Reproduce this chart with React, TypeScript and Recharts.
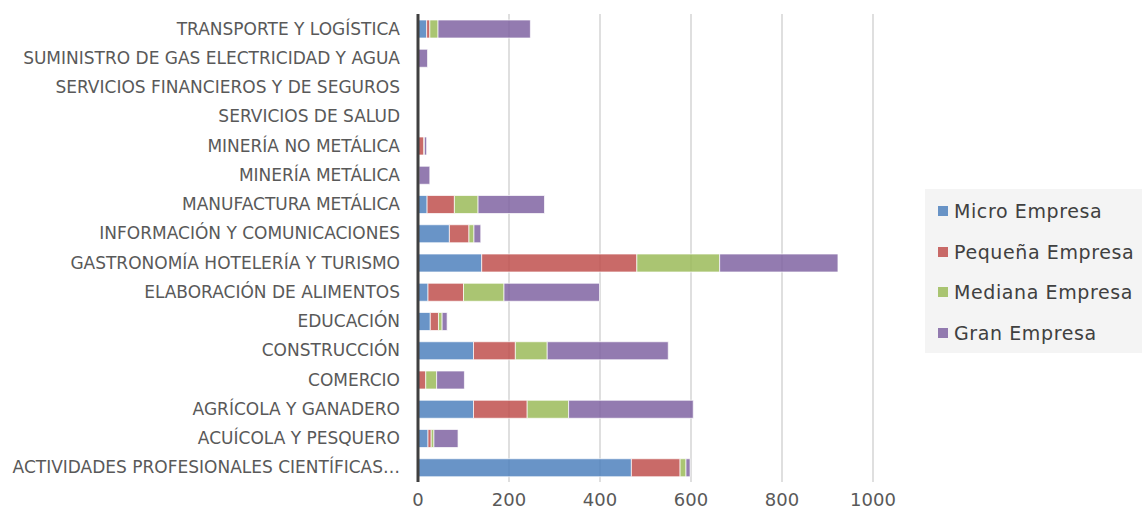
import React from "react";
import { Bar, BarChart, CartesianGrid, Legend, XAxis, YAxis } from "recharts";

// Sectors in source order (alphabetical); the Y axis is reversed so the list reads bottom-up.
const sectors = [
  "ACTIVIDADES PROFESIONALES CIENTÍFICAS…",
  "ACUÍCOLA Y PESQUERO",
  "AGRÍCOLA Y GANADERO",
  "COMERCIO",
  "CONSTRUCCIÓN",
  "EDUCACIÓN",
  "ELABORACIÓN DE ALIMENTOS",
  "GASTRONOMÍA HOTELERÍA Y TURISMO",
  "INFORMACIÓN Y COMUNICACIONES",
  "MANUFACTURA METÁLICA",
  "MINERÍA METÁLICA",
  "MINERÍA NO METÁLICA",
  "SERVICIOS DE SALUD",
  "SERVICIOS FINANCIEROS Y DE SEGUROS",
  "SUMINISTRO DE GAS ELECTRICIDAD Y AGUA",
  "TRANSPORTE Y LOGÍSTICA"
];

const micro = [469, 22, 122, 0, 122, 27, 22, 140, 69, 20, 0, 0, 0, 0, 0, 19];
const pequena = [107, 7, 118, 17, 92, 18, 78, 341, 43, 60, 0, 13, 0, 0, 0, 7];
const mediana = [13, 6, 91, 24, 70, 8, 89, 182, 11, 52, 2, 1, 0, 0, 0, 18];
const gran = [9, 53, 274, 61, 266, 11, 210, 260, 15, 146, 24, 5, 0, 0, 21, 203];

const xTicks = [0, 200, 400, 600, 800, 1000];

const series = [
  { key: "micro", name: "Micro Empresa", color: "#4F81BD" },
  { key: "pequena", name: "Pequeña Empresa", color: "#C0504D" },
  { key: "mediana", name: "Mediana Empresa", color: "#9BBB59" },
  { key: "gran", name: "Gran Empresa", color: "#8064A2" }
];

const data = sectors.map((sector, i) => ({
  sector,
  micro: micro[i],
  pequena: pequena[i],
  mediana: mediana[i],
  gran: gran[i]
}));

const FONT = "'DejaVu Sans', sans-serif";

function LegendBox() {
  return (
    <div
      style={{
        background: "#f4f4f4",
        width: 240,
        height: 164,
        boxSizing: "border-box",
        paddingTop: 2,
        paddingLeft: 13
      }}
    >
      {series.map((s) => (
        <div
          key={s.key}
          style={{
            display: "flex",
            alignItems: "center",
            height: 40.5,
            fontFamily: FONT,
            fontSize: 19,
            letterSpacing: 0.6,
            color: "#404040",
            whiteSpace: "nowrap"
          }}
        >
          <span
            style={{
              width: 10,
              height: 10,
              background: s.color,
              opacity: 0.85,
              marginRight: 6
            }}
          />
          {s.name}
        </div>
      ))}
    </div>
  );
}

export default function App() {
  return (
    <div
      style={{
        position: "fixed",
        left: 0,
        top: 0,
        width: 1142,
        height: 519,
        overflow: "hidden",
        background: "#ffffff"
      }}
    >
      <BarChart
        width={1142}
        height={519}
        data={data}
        layout="vertical"
        barSize={18}
        margin={{ top: 14, right: 269, bottom: 0, left: 0 }}
      >
        <CartesianGrid horizontal={false} stroke="#d4d4d4" strokeWidth={1.5} />
        <XAxis
          type="number"
          domain={[0, 1000]}
          ticks={xTicks}
          axisLine={false}
          tickLine={false}
          tickSize={0}
          tickMargin={11}
          height={37}
          tick={{ fill: "#595959", fontSize: 18, fontFamily: FONT }}
        />
        <YAxis
          type="category"
          dataKey="sector"
          reversed
          width={418}
          interval={0}
          tickLine={false}
          tickSize={0}
          tickMargin={18}
          axisLine={{ stroke: "#404040", strokeWidth: 3 }}
          tick={{ fill: "#595959", fontSize: 17, fontFamily: FONT }}
        />
        <Legend
          layout="vertical"
          align="center"
          verticalAlign="middle"
          wrapperStyle={{ left: 925, top: 189, width: 240, height: 164 }}
          content={() => <LegendBox />}
        />
        {series.map((s) => (
          <Bar
            key={s.key}
            dataKey={s.key}
            name={s.name}
            stackId="total"
            fill={s.color}
            fillOpacity={0.85}
            stroke="#ffffff"
            strokeOpacity={0.7}
            strokeWidth={1}
            isAnimationActive={false}
          />
        ))}
      </BarChart>
    </div>
  );
}
